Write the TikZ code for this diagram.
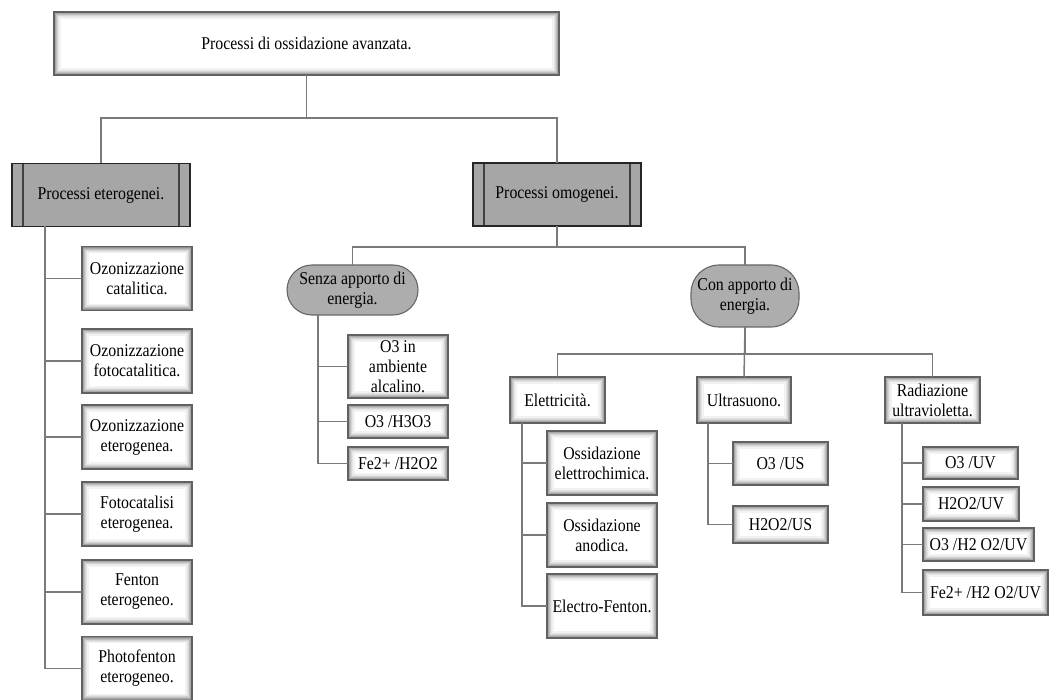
\documentclass[tikz,border=0pt]{standalone}
\usepackage{fontspec}
\setmainfont{Liberation Serif}[FakeStretch=0.88]
\definecolor{boxgray}{HTML}{A6A6A6}
\definecolor{ovalgray}{HTML}{ADADAD}
\definecolor{linegray}{HTML}{7A7A7A}
\tikzset{
  base/.style={inner sep=0pt, outer sep=0pt, align=center,
    font=\fontsize{18}{20}\selectfont},
  glowbox/.style={base, rectangle, draw=black!62, line width=1.4pt, fill=white,
    minimum width=#1,
    path picture={
      \foreach \i/\c in {1/45,2/34,3/25,4/17,5/10,6/5}{
        \draw[black!\c, line width=1.05pt]
          ([shift={(\i pt,-\i pt)}]path picture bounding box.north west) rectangle
          ([shift={(-\i pt,\i pt)}]path picture bounding box.south east);
      }}},
  procbox/.style={base, rectangle, draw=black!85, line width=1.3pt, fill=boxgray,
    minimum width=#1, minimum height=63pt,
    path picture={
      \draw[black!75, line width=1.8pt]
        ([xshift=11pt]path picture bounding box.north west) --
        ([xshift=11pt]path picture bounding box.south west);
      \draw[black!75, line width=1.8pt]
        ([xshift=-11pt]path picture bounding box.north east) --
        ([xshift=-11pt]path picture bounding box.south east);
    }},
  ovalbox/.style={base, rectangle, rounded corners=25pt, draw=black!60,
    line width=1.1pt, fill=ovalgray},
  conn/.style={draw=linegray, line width=1.5pt}
}
\begin{document}
\begin{tikzpicture}[x=1pt,y=-1pt]
\useasboundingbox (0,0) rectangle (1049,700);

% top
\node[glowbox=505pt, minimum height=63pt] (top) at (306.5,43.5) {Processi di ossidazione avanzata.};

% level 1
\node[procbox=178pt] (eter) at (101,195) {Processi eterogenei.};
\node[procbox=168pt] (omog) at (557,194.5) {Processi omogenei.};

% eterogenei children
\node[glowbox=110pt, minimum height=64pt] (e1) at (137,278.5) {Ozonizzazione\\catalitica.};
\node[glowbox=110pt, minimum height=64pt] (e2) at (137,361) {Ozonizzazione\\fotocatalitica.};
\node[glowbox=110pt, minimum height=64pt] (e3) at (137,437) {Ozonizzazione\\eterogenea.};
\node[glowbox=110pt, minimum height=64pt] (e4) at (137,514) {Fotocatalisi\\eterogenea.};
\node[glowbox=110pt, minimum height=64pt] (e5) at (137,592) {Fenton\\eterogeneo.};
\node[glowbox=110pt, minimum height=64pt] (e6) at (137,668.5) {Photofenton\\eterogeneo.};

% omogenei level 2
\node[ovalbox, minimum width=131pt, minimum height=50pt] (senza) at (352.5,290) {Senza apporto di\\energia.};
\node[ovalbox, minimum width=108pt, minimum height=62pt, rounded corners=28pt] (con) at (745,296) {Con apporto di\\energia.};

% senza children
\node[glowbox=100pt, minimum height=63pt] (s1) at (398,366.5) {O3 in\\ambiente\\alcalino.};
\node[glowbox=100pt, minimum height=33pt] (s2) at (398,421.5) {O3 /H3O3};
\node[glowbox=100pt, minimum height=33pt] (s3) at (398,463.5) {Fe2+ /H2O2};

% con children
\node[glowbox=95pt, minimum height=46pt] (elet) at (557.5,400) {Elettricità.};
\node[glowbox=94pt, minimum height=46pt] (ultra) at (744,400) {Ultrasuono.};
\node[glowbox=95pt, minimum height=46pt] (radi) at (932.5,400) {Radiazione\\ultravioletta.};

% elettricita children
\node[glowbox=110pt, minimum height=64pt] (el1) at (602,463) {Ossidazione\\elettrochimica.};
\node[glowbox=110pt, minimum height=64pt] (el2) at (602,535) {Ossidazione\\anodica.};
\node[glowbox=110pt, minimum height=64pt] (el3) at (602,606) {Electro-Fenton.};

% ultrasuono children
\node[glowbox=95pt, minimum height=43pt] (u1) at (780.5,463.5) {O3 /US};
\node[glowbox=95pt, minimum height=37pt] (u2) at (780.5,524.5) {H2O2/US};

% radiazione children
\node[glowbox=95pt, minimum height=32pt] (r1) at (970.5,463) {O3 /UV};
\node[glowbox=96pt, minimum height=34pt] (r2) at (971,504) {H2O2/UV};
\node[glowbox=111pt, minimum height=33pt] (r3) at (978.5,544.5) {O3 /H2 O2/UV};
\node[glowbox=125pt, minimum height=45pt] (r4) at (985.5,592.5) {Fe2+ /H2 O2/UV};

% connectors
\draw[conn] (top.south) -- ++(0,43) -| (eter.north);
\draw[conn] (top.south) -- ++(0,43) -| (omog.north);

\foreach \c in {e1,e2,e3,e4,e5,e6}
  \draw[conn] ([xshift=33pt]eter.south west) |- (\c.west);

\draw[conn] (omog.south) -- ++(0,21) -| (senza.north);
\draw[conn] (omog.south) -- ++(0,21) -| (con.north);

\foreach \c in {s1,s2,s3}
  \draw[conn] ([xshift=31pt]senza.south west) |- (\c.west);

\draw[conn] (con.south) -- ++(0,27) -| (elet.north);
\draw[conn] (con.south) -- (ultra.north);
\draw[conn] (con.south) -- ++(0,27) -| (radi.north);

\foreach \c in {el1,el2,el3}
  \draw[conn] ([xshift=12pt]elet.south west) |- (\c.west);
\foreach \c in {u1,u2}
  \draw[conn] ([xshift=11pt]ultra.south west) |- (\c.west);
\foreach \c in {r1,r2,r3,r4}
  \draw[conn] ([xshift=17pt]radi.south west) |- (\c.west);
\end{tikzpicture}
\end{document}
